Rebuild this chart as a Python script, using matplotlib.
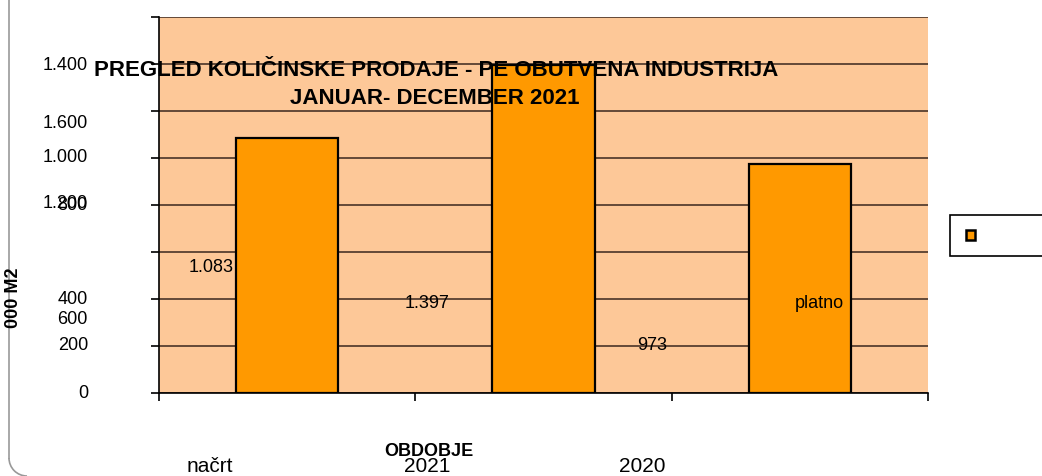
import numpy as np
import matplotlib.pyplot as plt
from matplotlib.patches import Rectangle, Arc

# podatki
kategorije = ["načrt", "2021", "2020"]
vrednosti = [1083, 1397, 973]
serija = "platno"
y_ticks = [0, 200, 400, 600, 800, 1000, 1200, 1400, 1600]

naslov1 = "PREGLED KOLIČINSKE PRODAJE - PE OBUTVENA INDUSTRIJA"
naslov2 = "JANUAR- DECEMBER 2021"


def fmt(v):
    return f"{v:,}".replace(",", ".")


plt.rcParams['font.family'] = ['Liberation Sans', 'DejaVu Sans']

fig = plt.figure(figsize=(10.42, 4.76), dpi=100)

# overlay v pikslih za besedila, ki so "zamaknjena"
ov = fig.add_axes([0, 0, 1, 1], zorder=5)
ov.set_xlim(0, 1042)
ov.set_ylim(476, 0)
ov.axis('off')
ov.patch.set_alpha(0)

ax = fig.add_axes([159 / 1042, 1 - 393 / 476, (928 - 159) / 1042, (393 - 17) / 476])
ax.set_facecolor('#fdc898')

x = np.arange(len(kategorije)) + 0.5
ax.bar(x, vrednosti, width=0.40, color='#ff9900', edgecolor='black', linewidth=1.6, zorder=3)

ax.set_xlim(0, len(kategorije))
ax.set_ylim(0, 1600)
ax.set_yticks(y_ticks)
ax.set_yticklabels([])
ax.set_xticks(np.arange(len(kategorije) + 1))
ax.set_xticklabels([])
ax.yaxis.grid(True, color='#4a3428', linewidth=1.2, zorder=1)
ax.set_axisbelow(True)
for s in ['top', 'right']:
    ax.spines[s].set_visible(False)
ax.spines['left'].set_linewidth(1.2)
ax.spines['bottom'].set_linewidth(1.2)
ax.tick_params(axis='both', direction='out', length=6, width=1.2, color='black')

# oznake osi y (kot v izvirniku, deloma na napačnih mestih)
ylabels = [("1.400", 66), ("1.600", 124), ("1.000", 158), ("1.200", 203), ("800", 205),
           ("400", 299), ("600", 320), ("200", 346), ("0", 393)]
for t, yy in ylabels:
    ov.text(88, yy, t, ha='right', va='center', fontsize=13)

ov.text(14, 298, "000 M2", rotation=90, ha='center', va='center', fontsize=13, fontweight='bold')

# naslov
ov.text(436, 71, naslov1, ha='center', va='center', fontsize=16, fontweight='bold')
ov.text(435, 98, naslov2, ha='center', va='center', fontsize=16, fontweight='bold')

# oznake podatkov
lab_pos = [(211, 268), (427, 303), (652, 346)]
for v, (px, py) in zip(vrednosti, lab_pos):
    ov.text(px, py, fmt(v), ha='center', va='center', fontsize=13)
ov.text(819, 304, serija, ha='center', va='center', fontsize=13)

# kategorije
cat_pos = [210, 427, 642]
for c, px in zip(kategorije, cat_pos):
    ov.text(px, 466, c, ha='center', va='center', fontsize=15)
ov.text(429, 452, "OBDOBJE", ha='center', va='center', fontsize=13, fontweight='bold')

# legenda
ov.add_patch(Rectangle((950, 215), 120, 41, facecolor='white', edgecolor='black', linewidth=1.2))
ov.add_patch(Rectangle((966, 230), 9, 10, facecolor='#ff9900', edgecolor='black', linewidth=1.8))

# okvir
ov.plot([9, 9], [0, 458], color='#999999', linewidth=1.2)
ov.add_patch(Arc((27, 458), 36, 36, theta1=90, theta2=180, color='#999999', linewidth=1.2))

fig.savefig('out.png', dpi=100)
